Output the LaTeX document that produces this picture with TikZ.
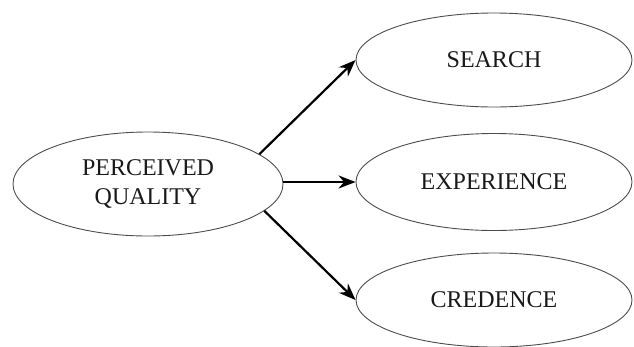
\documentclass[tikz,border=0pt]{standalone}
\usepackage{fontspec}
\setmainfont{Liberation Serif}
\usetikzlibrary{shapes.geometric,arrows.meta}
\tikzset{
  blob/.style={draw=black!70,line width=0.9pt,ellipse,inner sep=0pt,
    align=center,font=\fontsize{24}{29}\selectfont,text=black!90},
  link/.style={-{Stealth[length=17pt,width=13pt]},line width=2.2pt}
}
\begin{document}
\begin{tikzpicture}[x=1pt,y=-1pt]
    \useasboundingbox (0,0) rectangle (634,346);
    \node[blob,minimum width=270,minimum height=104] (pq) at (148,184) {PERCEIVED\\QUALITY};
    \node[blob,minimum width=276,minimum height=94] (search) at (494,60) {SEARCH};
    \node[blob,minimum width=276,minimum height=97] (exp) at (494,182) {EXPERIENCE};
    \node[blob,minimum width=276,minimum height=94] (cred) at (494,300) {CREDENCE};
    \draw[link] (pq.15) -- (search.west);
    \draw[link] (pq.east |- exp.west) -- (exp.west);
    \draw[link] (pq.-13) -- (cred.west);
  \end{tikzpicture}
\end{document}
